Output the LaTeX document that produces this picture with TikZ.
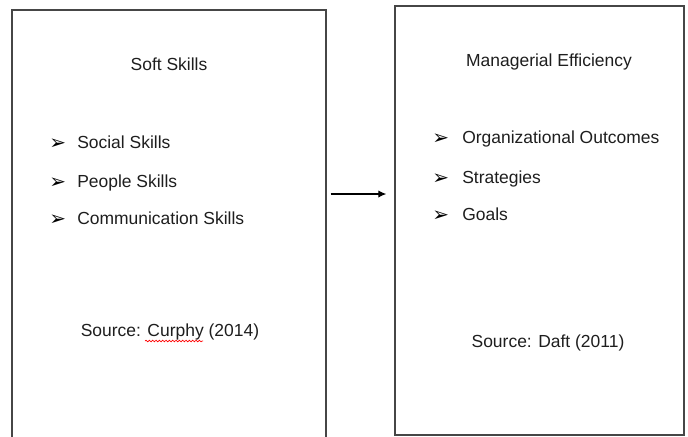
\documentclass[tikz,border=0pt]{standalone}
\usepackage{fontspec}
\setmainfont{Liberation Sans}
\newfontfamily\dejavu{DejaVu Sans}
\usetikzlibrary{arrows.meta,decorations.pathmorphing}
\definecolor{boxgray}{RGB}{70,70,70}
\definecolor{textblack}{RGB}{30,30,30}
\begin{document}
\begin{tikzpicture}[x=0.75pt,y=-0.75pt, font=\fontsize{13.1}{15}\selectfont,
  box/.style={draw=boxgray, line width=1pt, inner sep=0pt},
  txt/.style={anchor=base, inner sep=0pt, text=textblack},
  item/.style={anchor=base west, inner sep=0pt, text=textblack},
  bul/.style={anchor=base west, inner sep=0pt, text=black, font=\dejavu\fontsize{15}{17}\selectfont}]
\useasboundingbox (0,0) rectangle (688,436);
% boxes
\node[box, minimum width=235.5pt, minimum height=330pt] (soft) at (169,230) {};
\node[box, minimum width=216.75pt, minimum height=321.75pt] (eff) at (539.5,220.5) {};
% left box texts
\node[txt] (softtitle) at (169,70) {Soft Skills};
\node[bul] (b1) at (49,149) {➢};
\node[item] (i1) at (77,148) {Social Skills};
\node[bul] (b2) at (49,188) {➢};
\node[item] (i2) at (77,187) {People Skills};
\node[bul] (b3) at (49,225) {➢};
\node[item] (i3) at (77,224) {Communication Skills};
\node[txt] (src1) at (170,336) {Source: Curphy (2014)};
\draw[red, line width=0.5pt, decorate, decoration={snake, amplitude=0.6pt, segment length=2.5pt}] (145,341) -- (203,341);
% right box texts
\node[txt] (efftitle) at (549,66) {Managerial Efficiency};
\node[bul] (c1) at (432,144) {➢};
\node[item] (j1) at (462,143) {Organizational Outcomes};
\node[bul] (c2) at (432,184) {➢};
\node[item] (j2) at (462,183) {Strategies};
\node[bul] (c3) at (432,221) {➢};
\node[item] (j3) at (462,220) {Goals};
\node[txt] (src2) at (548,347) {Source: Daft (2011)};
% arrow
\coordinate (ay) at (0,194);
\draw[black, line width=0.9pt, -{Latex[length=6pt,width=5.5pt]}, shorten <=3pt, shorten >=6pt] (soft.east |- ay) -- (eff.west |- ay);
\end{tikzpicture}
\end{document}
